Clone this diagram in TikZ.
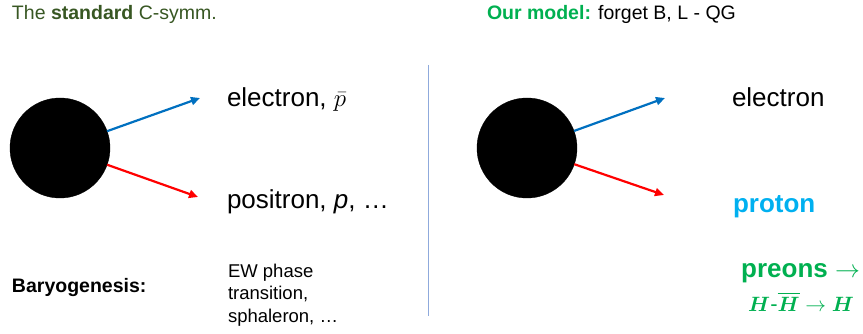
\documentclass[tikz,border=0pt]{standalone}
\usepackage{amsmath,amssymb}
\usepackage{fontspec}
\setmainfont{Liberation Sans}
\usepackage{tikz}
\usetikzlibrary{arrows.meta,positioning}
\definecolor{titlegreen}{HTML}{385723}
\definecolor{modelgreen}{HTML}{00B050}
\definecolor{protoncyan}{HTML}{00B0F0}
\definecolor{eblue}{HTML}{0070C0}
\definecolor{pred}{HTML}{FF0000}
\definecolor{divider}{HTML}{8FAADC}

\begin{document}
\begin{tikzpicture}[x=1pt,y=-1pt,every node/.style={inner sep=0pt,outer sep=0pt},
  blob/.style={circle,fill=black,draw=black,minimum size=100pt},
  ray/.style={line width=2.2pt,-{Triangle[length=9pt,width=8pt]}},
  bigtxt/.style={font=\fontsize{26}{31}\selectfont},
  midtxt/.style={font=\fontsize{19.5}{23}\selectfont},
  smalltxt/.style={font=\fontsize{18.5}{22.5}\selectfont}]
  \useasboundingbox (0,0) rectangle (863,334);
  % titles
  \node[midtxt,text=titlegreen,anchor=base west] (stdtitle) at (12,20) {The \textbf{standard} C-symm.};
  \node[midtxt,anchor=base west] (modeltitle) at (487,20) {\textcolor{modelgreen}{\textbf{Our model:}} forget B, L - QG};
  % standard C-symmetry: left side
  \node[blob] (blobL) at (60,148) {};
  \coordinate (eL) at (200,98);
  \coordinate (pL) at (198,197);
  \draw[ray,eblue] (blobL) -- (eL);
  \draw[ray,pred] (blobL) -- (pL);
  \node[bigtxt,anchor=base west] (electronL) at (227,107) {electron, $\bar{p}$};
  \node[bigtxt,anchor=base west] (positronL) at (227,208) {positron, \textit{p}, …};
  \node[midtxt,anchor=base west] (baryo) at (12,292) {\textbf{Baryogenesis:}};
  \node[smalltxt,anchor=base west,align=left] (ewpt) at (228,322) {EW phase\\transition,\\sphaleron, …};
  % divider
  \coordinate (divtop) at (428,65);
  \coordinate (divbot) at (428,316);
  \draw[divider,line width=1pt] (divtop) -- (divbot);
  % our model: right side
  \node[blob] (blobR) at (527,148) {};
  \coordinate (eR) at (665,98);
  \coordinate (pR) at (664,195);
  \draw[ray,eblue] (blobR) -- (eR);
  \draw[ray,pred] (blobR) -- (pR);
  \node[bigtxt,anchor=base west] (electronR) at (732,107) {electron};
  \node[bigtxt,anchor=base west,text=protoncyan] (protonR) at (733,212) {\textbf{proton}};
  \node[bigtxt,anchor=base east,text=modelgreen] (preons) at (860,277) {\textbf{preons} $\to$};
  \node[font=\fontsize{22}{26}\selectfont,anchor=base east,text=modelgreen] (hhbar) at (854,311) {$\boldsymbol{H}$-$\boldsymbol{\overline{H}}\to\boldsymbol{H}$};
\end{tikzpicture}
\end{document}
